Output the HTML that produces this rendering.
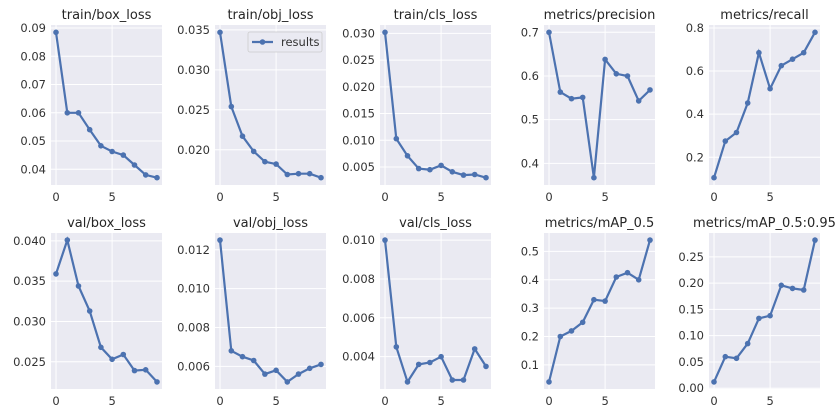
<!DOCTYPE html>
<html><head><meta charset="utf-8"><style>
html,body{margin:0;padding:0;background:#fff;}
svg{display:block;font-family:"DejaVu Sans","Liberation Sans",sans-serif;}
</style></head><body>
<svg id="s" width="837" height="418" viewBox="0 0 837 418" xmlns="http://www.w3.org/2000/svg"></svg>
<script>
const P=[
["train/box_loss",[.0885,.060,.060,.054,.0483,.0463,.045,.0415,.038,.037],[.04,.05,.06,.07,.08,.09],2],
["train/obj_loss",[.0347,.0254,.0217,.0198,.0185,.0182,.0169,.017,.017,.0165],[.020,.025,.030,.035],3],
["train/cls_loss",[.0302,.0103,.0071,.0047,.0045,.0053,.0041,.0035,.0036,.003],[.005,.010,.015,.020,.025,.030],3],
["metrics/precision",[.70,.563,.548,.551,.367,.638,.605,.600,.543,.568],[.4,.5,.6,.7],1],
["metrics/recall",[.105,.275,.315,.452,.685,.518,.625,.655,.685,.78],[.2,.4,.6,.8],1],
["val/box_loss",[.0359,.0401,.0344,.0313,.0268,.0253,.0259,.0239,.024,.0225],[.025,.030,.035,.040],3],
["val/obj_loss",[.0125,.0068,.0065,.0063,.0056,.0058,.0052,.0056,.0059,.0061],[.006,.008,.010,.012],3],
["val/cls_loss",[.0100,.0045,.0027,.0036,.0037,.0040,.0028,.0028,.0044,.0035],[.004,.006,.008,.010],3],
["metrics/mAP_0.5",[.04,.20,.22,.25,.33,.325,.41,.425,.40,.54],[.1,.2,.3,.4,.5],1],
["metrics/mAP_0.5:0.95",[.012,.06,.057,.085,.133,.138,.196,.19,.187,.282],[0,.05,.10,.15,.20,.25],2]];
const L=[51,215,380,544,709],W=111,T=[25,233],H=[160,156];
let o='';
P.forEach((p,i)=>{
 const r=i<5?0:1,c=i%5,x0=L[c],y0=T[r],h=H[r];
 const d=p[1],mn=Math.min(...d),mx=Math.max(...d),pd=(mx-mn)*0.05,lo=mn-pd,hi=mx+pd;
 const X=v=>x0+(v+0.45)/9.9*W, Y=v=>y0+h-(v-lo)/(hi-lo)*h;
 o+=`<rect x="${x0}" y="${y0}" width="${W}" height="${h}" fill="#eaeaf2"/>`;
 o+=`<text x="${x0+W/2}" y="${y0-6}" font-size="13" fill="#262626" text-anchor="middle">${p[0]}</text>`;
 p[2].forEach(t=>{const y=Y(t);if(y<y0||y>y0+h)return;
  o+=`<line x1="${x0}" x2="${x0+W}" y1="${y}" y2="${y}" stroke="#fff" stroke-width="1"/>`;
  o+=`<text x="${x0-5}" y="${y+4}" font-size="11.5" fill="#333" text-anchor="end">${t.toFixed(p[3])}</text>`;});
 [0,5].forEach(t=>{const x=X(t);
  o+=`<line x1="${x}" x2="${x}" y1="${y0}" y2="${y0+h}" stroke="#fff" stroke-width="1"/>`;
  o+=`<text x="${x}" y="${y0+h+16}" font-size="11.5" fill="#333" text-anchor="middle">${t}</text>`;});
 const pts=d.map((v,j)=>X(j).toFixed(1)+','+Y(v).toFixed(1));
 o+=`<polyline points="${pts.join(' ')}" fill="none" stroke="#4c72b0" stroke-width="2.2"/>`;
 pts.forEach(q=>{const [a,b]=q.split(',');o+=`<circle cx="${a}" cy="${b}" r="2.8" fill="#4c72b0"/>`;});
});
o+=`<rect x="248" y="32" width="74" height="20" rx="2" fill="#eaeaf2" stroke="#ccc" stroke-width="0.8"/>`;
o+=`<line x1="252" x2="273" y1="42" y2="42" stroke="#4c72b0" stroke-width="2.2"/><circle cx="262.5" cy="42" r="2.8" fill="#4c72b0"/>`;
o+=`<text x="281" y="46" font-size="11.5" fill="#333">results</text>`;
document.getElementById('s').innerHTML=o;
</script>
</body></html>
